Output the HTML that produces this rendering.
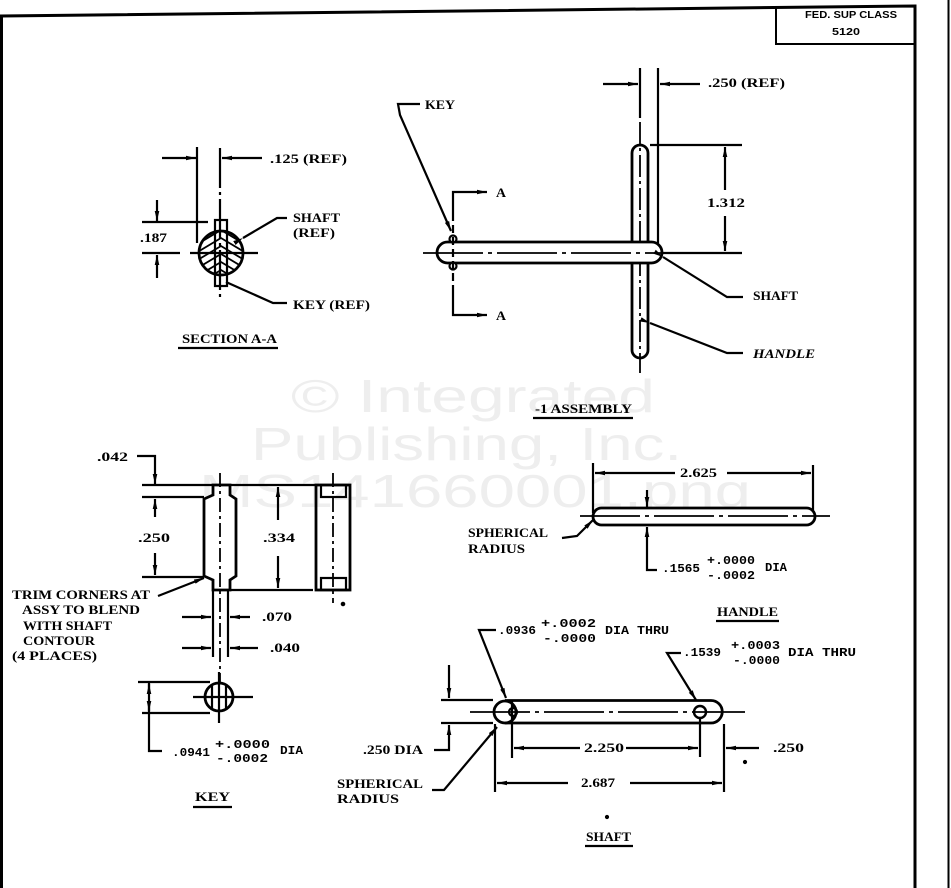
<!DOCTYPE html>
<html>
<head>
<meta charset="utf-8">
<style>
  html,body{margin:0;padding:0;background:#fff;}
  body{width:951px;height:888px;overflow:hidden;}
  svg{display:block;}
  .t{font-family:"Liberation Serif",serif;font-weight:bold;font-size:13px;fill:#000;}
  .n{font-family:"Liberation Mono",monospace;font-weight:bold;font-size:12px;fill:#000;}
  .s{font-family:"Liberation Sans",sans-serif;font-weight:bold;font-size:10px;fill:#000;}
</style>
</head>
<body>
<svg width="951" height="888" viewBox="0 0 951 888" xmlns="http://www.w3.org/2000/svg">
<defs>
  <marker id="a" viewBox="0 0 10 5" refX="10" refY="2.5" markerWidth="10" markerHeight="5" markerUnits="userSpaceOnUse" orient="auto">
    <path d="M0,0.2 L10,2.5 L0,4.8 Z" fill="#000"/>
  </marker>
  <clipPath id="cc"><circle cx="221" cy="253" r="21"/></clipPath>
</defs>

<!-- watermark -->
<g fill="#eeeeee" font-family="Liberation Sans, sans-serif" font-size="46">
  <text x="291" y="412" textLength="364" lengthAdjust="spacingAndGlyphs">© Integrated</text>
  <text x="251" y="460" textLength="431" lengthAdjust="spacingAndGlyphs">Publishing, Inc.</text>
  <text x="199" y="507" textLength="552" lengthAdjust="spacingAndGlyphs">MS141660001.png</text>
</g>

<g stroke="#000" stroke-width="2.2" fill="none" stroke-linecap="butt">
  <!-- frame -->
  <path d="M1.5,888 V16 L915,6 V888" stroke-width="3"/>
  <line x1="948.5" y1="0" x2="948.5" y2="888" stroke-width="2"/>
  <!-- title box -->
  <path d="M776,8 V44 H914" stroke-width="2"/>

  <!-- ================= SECTION A-A ================= -->
  <line x1="197" y1="147" x2="197" y2="243"/>
  <line x1="220" y1="148" x2="220" y2="297" stroke-dasharray="40,4,3,4"/>
  <line x1="162" y1="158" x2="196" y2="158" marker-end="url(#a)"/>
  <line x1="262" y1="158" x2="222" y2="158" marker-end="url(#a)"/>
  <line x1="142" y1="222" x2="208" y2="222"/>
  <line x1="142" y1="253" x2="180" y2="253"/>
  <line x1="190" y1="253" x2="258" y2="253"/>
  <line x1="157" y1="200" x2="157" y2="221" marker-end="url(#a)"/>
  <line x1="157" y1="278" x2="157" y2="255" marker-end="url(#a)"/>
  <!-- hatch -->
  <g clip-path="url(#cc)" stroke-width="1.8">
    <polyline points="196,237 221,222 246,237"/>
    <polyline points="196,245 221,230 246,245"/>
    <polyline points="196,253 221,238 246,253"/>
    <polyline points="196,261 221,246 246,261"/>
    <polyline points="196,269 221,254 246,269"/>
    <polyline points="196,277 221,262 246,277"/>
    <polyline points="196,285 221,270 246,285"/>
  </g>
  <circle cx="221" cy="253" r="22" stroke-width="2.8"/>
  <rect x="215" y="220" width="12" height="66" stroke-width="2.2"/>
  <polyline points="243,238 277,218 287,218" marker-start="url(#a)"/>
  <polyline points="226,282 273,303 287,303"/>
  <line x1="178" y1="348" x2="278" y2="348"/>

  <!-- ================= ASSEMBLY ================= -->
  <line x1="603" y1="84" x2="638" y2="84" marker-end="url(#a)"/>
  <line x1="700" y1="84" x2="660" y2="84" marker-end="url(#a)"/>
  <line x1="640" y1="68" x2="640" y2="118"/>
  <line x1="658" y1="68" x2="658" y2="248"/>
  <rect x="632" y="145" width="16" height="213" rx="8" stroke-width="2.8" fill="#fff"/>
  <line x1="640" y1="122" x2="640" y2="373" stroke-dasharray="22,4,3,4" stroke-width="1.8"/>
  <rect x="437" y="242" width="225" height="21" rx="10.5" stroke-width="2.8" fill="#fff"/>
  <line x1="423" y1="253" x2="665" y2="253" stroke-dasharray="60,5,4,5" stroke-width="1.8"/>
  <circle cx="453" cy="239" r="3.5" fill="#fff"/>
  <circle cx="453" cy="266" r="3.5" fill="#fff"/>
  <line x1="453" y1="213" x2="453" y2="288" stroke-dasharray="8,4"/>
  <polyline points="453,213 453,192 487,192" marker-end="url(#a)"/>
  <polyline points="453,288 453,315 487,315" marker-end="url(#a)"/>
  <polyline points="420,104 398,104 400,115 451,231" marker-end="url(#a)"/>
  <line x1="650" y1="145" x2="742" y2="145"/>
  <line x1="663" y1="253" x2="742" y2="253"/>
  <line x1="725" y1="190" x2="725" y2="147" marker-end="url(#a)"/>
  <line x1="725" y1="216" x2="725" y2="251" marker-end="url(#a)"/>
  <polyline points="663,257 727,297 743,297" marker-start="url(#a)"/>
  <polyline points="650,323 727,353 743,353" marker-start="url(#a)"/>
  <line x1="533" y1="418" x2="633" y2="418"/>

  <!-- ================= KEY ================= -->
  <polyline points="137,456 155,456 155,484" marker-end="url(#a)"/>
  <line x1="142" y1="485" x2="315" y2="485"/>
  <line x1="142" y1="497" x2="204" y2="497"/>
  <line x1="142" y1="577" x2="204" y2="577"/>
  <line x1="155" y1="517" x2="155" y2="499" marker-end="url(#a)"/>
  <line x1="155" y1="553" x2="155" y2="575" marker-end="url(#a)"/>
  <polygon points="213,485 230,485 230,495 236,499 236,576 230,580 230,590 213,590 213,580 204,576 204,499 213,495" stroke-width="2.8" fill="#fff"/>
  <line x1="220" y1="473" x2="220" y2="682" stroke-dasharray="14,4,3,4" stroke-width="1.8"/>
  <line x1="213" y1="590" x2="213" y2="657"/>
  <line x1="228" y1="590" x2="228" y2="657"/>
  <line x1="182" y1="617" x2="211" y2="617" marker-end="url(#a)"/>
  <line x1="250" y1="617" x2="230" y2="617" marker-end="url(#a)"/>
  <line x1="182" y1="648" x2="211" y2="648" marker-end="url(#a)"/>
  <line x1="258" y1="648" x2="230" y2="648" marker-end="url(#a)"/>
  <line x1="230" y1="590" x2="313" y2="590"/>
  <line x1="278" y1="520" x2="278" y2="487" marker-end="url(#a)"/>
  <line x1="278" y1="556" x2="278" y2="588" marker-end="url(#a)"/>
  <rect x="316" y="485" width="34" height="105" stroke-width="2.8"/>
  <rect x="321" y="485" width="25" height="12"/>
  <rect x="321" y="578" width="25" height="12"/>
  <line x1="333" y1="473" x2="333" y2="603" stroke-dasharray="14,4,3,4" stroke-width="1.8"/>
  <circle cx="343" cy="604" r="1.2" fill="#000"/>
  <line x1="158" y1="596" x2="204" y2="578" marker-end="url(#a)"/>

  <!-- key end view -->
  <circle cx="219" cy="697" r="14" stroke-width="2.8"/>
  <line x1="212" y1="686" x2="212" y2="708"/>
  <line x1="226" y1="686" x2="226" y2="708"/>
  <line x1="193" y1="697" x2="253" y2="697"/>
  <line x1="219" y1="672" x2="219" y2="723"/>
  <line x1="138" y1="682" x2="210" y2="682"/>
  <line x1="142" y1="713" x2="210" y2="713"/>
  <polyline points="149,682 149,751 162,751"/>
  <line x1="149" y1="694" x2="149" y2="684" marker-end="url(#a)"/>
  <line x1="149" y1="701" x2="149" y2="711" marker-end="url(#a)"/>
  <line x1="193" y1="807" x2="232" y2="807"/>

  <!-- ================= HANDLE ================= -->
  <line x1="593" y1="463" x2="593" y2="513"/>
  <line x1="813" y1="465" x2="813" y2="510"/>
  <line x1="675" y1="473" x2="595" y2="473" marker-end="url(#a)"/>
  <line x1="727" y1="473" x2="811" y2="473" marker-end="url(#a)"/>
  <rect x="593" y="508" width="222" height="17" rx="8.5" stroke-width="2.8" fill="#fff"/>
  <line x1="580" y1="516" x2="830" y2="516" stroke-dasharray="60,5,4,5" stroke-width="1.8"/>
  <line x1="647" y1="490" x2="647" y2="507" marker-end="url(#a)"/>
  <polyline points="657,570 647,570 647,527" marker-end="url(#a)"/>
  <polyline points="562,538 577,536 593,520" marker-end="url(#a)"/>
  <line x1="716" y1="621" x2="779" y2="621"/>

  <!-- ================= SHAFT ================= -->
  <polyline points="496,630 479,630 506,698" marker-end="url(#a)"/>
  <polyline points="681,653 667,653 696,700" marker-end="url(#a)"/>
  <path d="M505,700.5 H711 A11.25,11.25 0 0 1 711,723 H505" stroke-width="2.8"/>
  <circle cx="505" cy="712" r="11" stroke-width="2.8"/>
  <circle cx="513" cy="712" r="4"/>
  <circle cx="700" cy="712" r="6" stroke-width="2.4"/>
  <line x1="470" y1="712" x2="745" y2="712" stroke-dasharray="60,5,4,5" stroke-width="1.8"/>
  <line x1="441" y1="700" x2="493" y2="700"/>
  <line x1="441" y1="723" x2="493" y2="723"/>
  <line x1="449" y1="665" x2="449" y2="698" marker-end="url(#a)"/>
  <polyline points="434,750 449,750 449,725" marker-end="url(#a)"/>
  <line x1="512" y1="700" x2="512" y2="758"/>
  <line x1="700" y1="718" x2="700" y2="757"/>
  <line x1="580" y1="748" x2="514" y2="748" marker-end="url(#a)"/>
  <line x1="626" y1="748" x2="698" y2="748" marker-end="url(#a)"/>
  <line x1="495" y1="724" x2="495" y2="792"/>
  <line x1="724" y1="724" x2="724" y2="792"/>
  <line x1="568" y1="783" x2="497" y2="783" marker-end="url(#a)"/>
  <line x1="630" y1="783" x2="722" y2="783" marker-end="url(#a)"/>
  <line x1="759" y1="748" x2="726" y2="748" marker-end="url(#a)"/>
  <circle cx="745" cy="762" r="1" fill="#000"/>
  <polyline points="432,790 444,790 497,727" marker-end="url(#a)"/>
  <circle cx="607" cy="817" r="1" fill="#000"/>
  <line x1="585" y1="846" x2="633" y2="846"/>
</g>

<!-- ================= TEXT ================= -->
<text class="s" x="805" y="18" textLength="92" lengthAdjust="spacingAndGlyphs">FED. SUP CLASS</text>
<text class="s" x="832" y="35" textLength="28" lengthAdjust="spacingAndGlyphs">5120</text>

<text class="t" x="270" y="163" textLength="77" lengthAdjust="spacingAndGlyphs">.125 (REF)</text>
<text class="t" x="293" y="222" textLength="47" lengthAdjust="spacingAndGlyphs">SHAFT</text>
<text class="t" x="293" y="237" textLength="42" lengthAdjust="spacingAndGlyphs">(REF)</text>
<text class="t" x="140" y="242" textLength="27" lengthAdjust="spacingAndGlyphs">.187</text>
<text class="t" x="293" y="309" textLength="77" lengthAdjust="spacingAndGlyphs">KEY (REF)</text>
<text class="t" x="182" y="343" textLength="95" lengthAdjust="spacingAndGlyphs">SECTION A-A</text>

<text class="t" x="708" y="87" textLength="77" lengthAdjust="spacingAndGlyphs">.250 (REF)</text>
<text class="t" x="425" y="109" textLength="30" lengthAdjust="spacingAndGlyphs">KEY</text>
<text class="t" x="496" y="197" textLength="10" lengthAdjust="spacingAndGlyphs">A</text>
<text class="t" x="496" y="320" textLength="10" lengthAdjust="spacingAndGlyphs">A</text>
<text class="t" x="707" y="207" textLength="38" lengthAdjust="spacingAndGlyphs">1.312</text>
<text class="t" x="753" y="300" textLength="45" lengthAdjust="spacingAndGlyphs">SHAFT</text>
<text class="t" x="753" y="358" textLength="62" lengthAdjust="spacingAndGlyphs" font-style="italic">HANDLE</text>
<text class="t" x="535" y="413" textLength="97" lengthAdjust="spacingAndGlyphs">-1 ASSEMBLY</text>

<text class="t" x="97" y="461" textLength="31" lengthAdjust="spacingAndGlyphs">.042</text>
<text class="t" x="138" y="542" textLength="32" lengthAdjust="spacingAndGlyphs">.250</text>
<text class="t" x="263" y="542" textLength="32" lengthAdjust="spacingAndGlyphs">.334</text>
<text class="t" x="12" y="599" textLength="138" lengthAdjust="spacingAndGlyphs">TRIM CORNERS AT</text>
<text class="t" x="22" y="614" textLength="118" lengthAdjust="spacingAndGlyphs">ASSY TO BLEND</text>
<text class="t" x="23" y="630" textLength="89" lengthAdjust="spacingAndGlyphs">WITH SHAFT</text>
<text class="t" x="23" y="645" textLength="72" lengthAdjust="spacingAndGlyphs">CONTOUR</text>
<text class="t" x="12" y="660" textLength="85" lengthAdjust="spacingAndGlyphs">(4 PLACES)</text>
<text class="t" x="262" y="621" textLength="30" lengthAdjust="spacingAndGlyphs">.070</text>
<text class="t" x="270" y="652" textLength="30" lengthAdjust="spacingAndGlyphs">.040</text>

<text class="n" x="172" y="756" textLength="38" lengthAdjust="spacingAndGlyphs">.0941</text>
<text class="n" x="215" y="748" textLength="55" lengthAdjust="spacingAndGlyphs">+.0000</text>
<text class="n" x="216" y="762" textLength="52" lengthAdjust="spacingAndGlyphs">-.0002</text>
<text class="n" x="280" y="754" textLength="23" lengthAdjust="spacingAndGlyphs">DIA</text>
<text class="t" x="195" y="801" textLength="35" lengthAdjust="spacingAndGlyphs">KEY</text>

<text class="t" x="680" y="477" textLength="37" lengthAdjust="spacingAndGlyphs">2.625</text>
<text class="t" x="468" y="537" textLength="80" lengthAdjust="spacingAndGlyphs">SPHERICAL</text>
<text class="t" x="468" y="553" textLength="57" lengthAdjust="spacingAndGlyphs">RADIUS</text>
<text class="n" x="662" y="572" textLength="38" lengthAdjust="spacingAndGlyphs">.1565</text>
<text class="n" x="707" y="564" textLength="48" lengthAdjust="spacingAndGlyphs">+.0000</text>
<text class="n" x="707" y="579" textLength="48" lengthAdjust="spacingAndGlyphs">-.0002</text>
<text class="n" x="765" y="571" textLength="22" lengthAdjust="spacingAndGlyphs">DIA</text>
<text class="t" x="717" y="616" textLength="61" lengthAdjust="spacingAndGlyphs">HANDLE</text>

<text class="n" x="498" y="634" textLength="38" lengthAdjust="spacingAndGlyphs">.0936</text>
<text class="n" x="541" y="627" textLength="55" lengthAdjust="spacingAndGlyphs">+.0002</text>
<text class="n" x="543" y="642" textLength="53" lengthAdjust="spacingAndGlyphs">-.0000</text>
<text class="n" x="605" y="634" textLength="64" lengthAdjust="spacingAndGlyphs">DIA THRU</text>
<text class="n" x="683" y="656" textLength="38" lengthAdjust="spacingAndGlyphs">.1539</text>
<text class="n" x="731" y="649" textLength="49" lengthAdjust="spacingAndGlyphs">+.0003</text>
<text class="n" x="733" y="664" textLength="47" lengthAdjust="spacingAndGlyphs">-.0000</text>
<text class="n" x="788" y="656" textLength="68" lengthAdjust="spacingAndGlyphs">DIA THRU</text>
<text class="t" x="363" y="754" textLength="60" lengthAdjust="spacingAndGlyphs">.250 DIA</text>
<text class="t" x="584" y="752" textLength="40" lengthAdjust="spacingAndGlyphs">2.250</text>
<text class="t" x="773" y="752" textLength="31" lengthAdjust="spacingAndGlyphs">.250</text>
<text class="t" x="581" y="787" textLength="34" lengthAdjust="spacingAndGlyphs">2.687</text>
<text class="t" x="337" y="788" textLength="86" lengthAdjust="spacingAndGlyphs">SPHERICAL</text>
<text class="t" x="337" y="803" textLength="62" lengthAdjust="spacingAndGlyphs">RADIUS</text>
<text class="t" x="586" y="841" textLength="45" lengthAdjust="spacingAndGlyphs">SHAFT</text>
</svg>
</body>
</html>
